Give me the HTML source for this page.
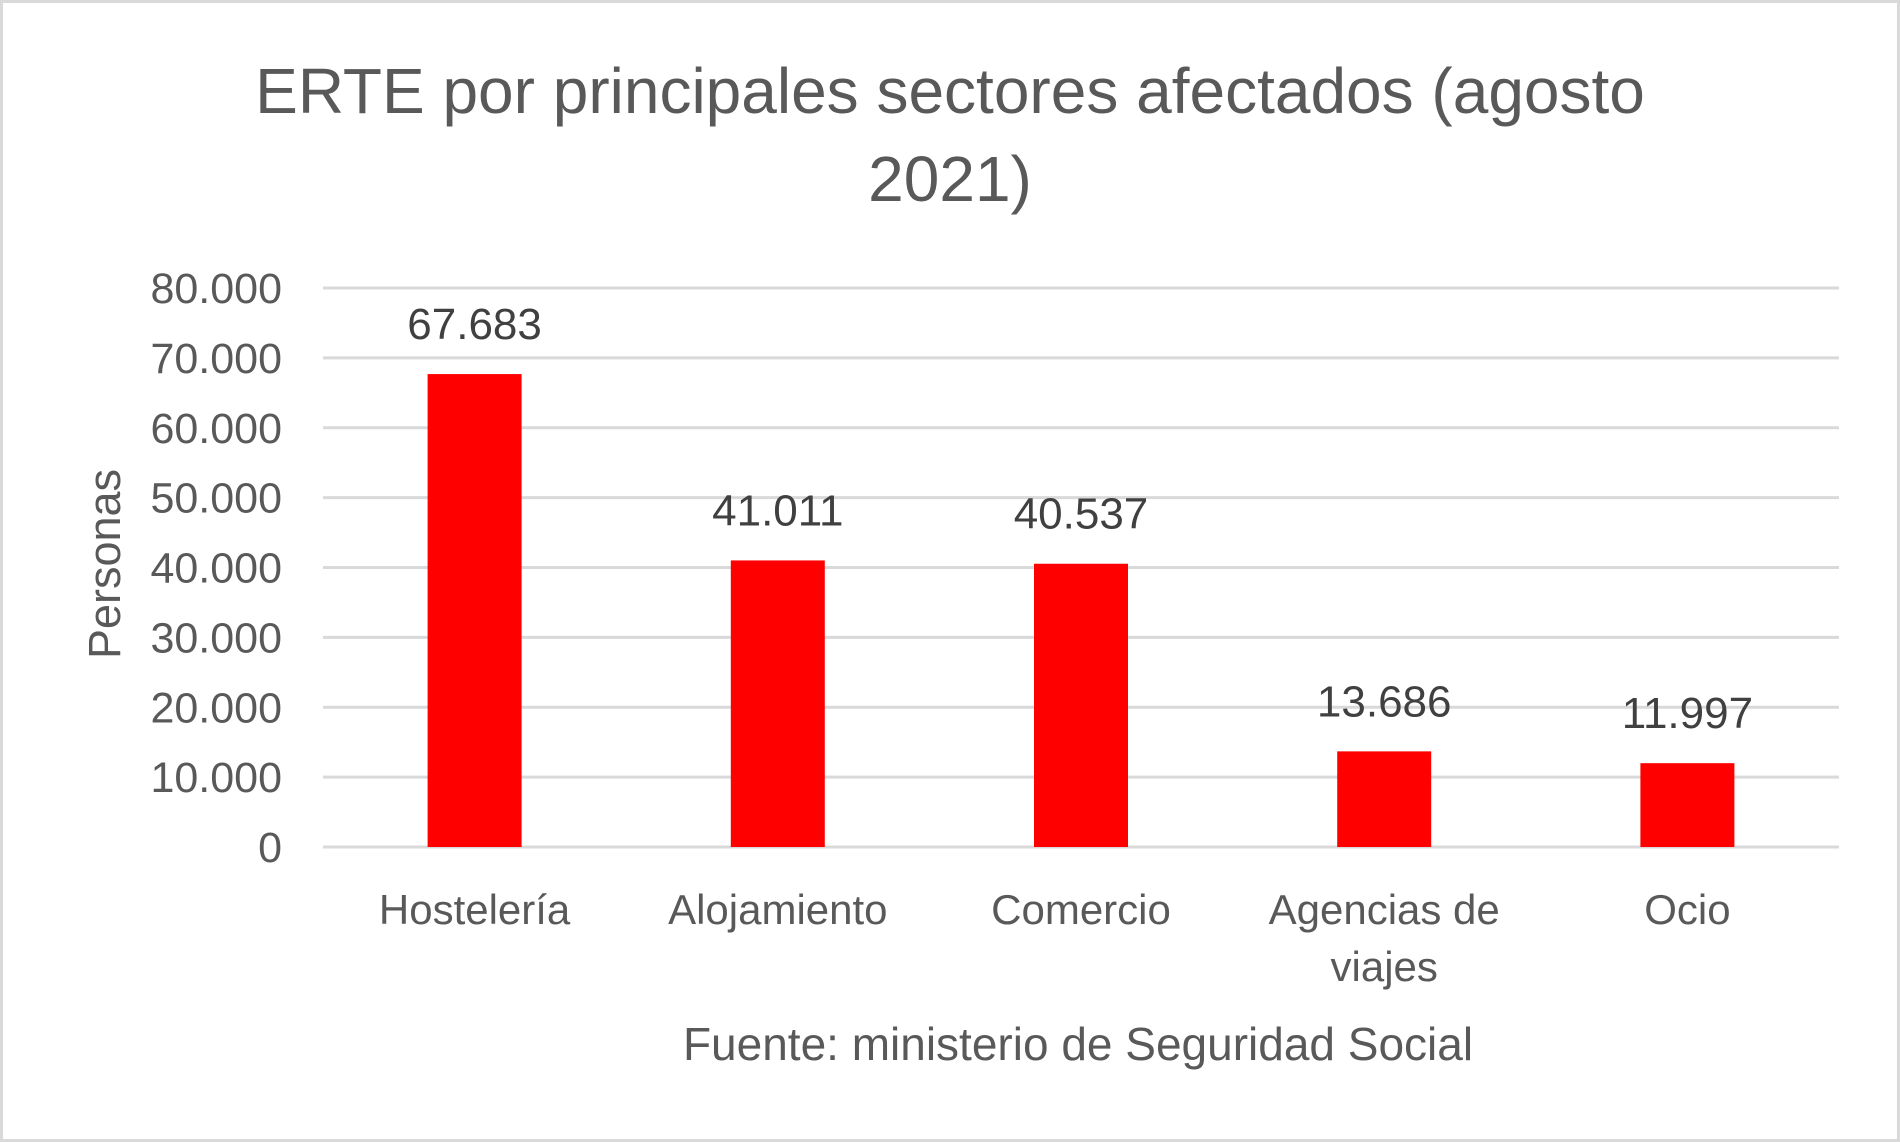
<!DOCTYPE html>
<html><head><meta charset="utf-8"><style>
html,body{margin:0;padding:0;background:#fff;}
svg{display:block;font-family:"Liberation Sans",Arial,sans-serif;}
</style></head><body>
<svg id="chart" width="1900" height="1142" viewBox="0 0 1900 1142" xmlns="http://www.w3.org/2000/svg">
<rect x="1.5" y="1.5" width="1897" height="1139" fill="#fff" stroke="#d9d9d9" stroke-width="3"/>
<text x="950" y="113" text-anchor="middle" font-size="64" fill="#595959">ERTE por principales sectores afectados (agosto</text>
<text x="950" y="201" text-anchor="middle" font-size="64" fill="#595959">2021)</text>
<text transform="translate(120,564) rotate(-90)" text-anchor="middle" font-size="45" fill="#595959">Personas</text>
<text x="1078" y="1060" text-anchor="middle" font-size="46" fill="#595959">Fuente: ministerio de Seguridad Social</text>
<g id="grid"></g><g id="yticks"></g><g id="bars"></g><g id="labels"></g><g id="cats"></g>
</svg>
<script>
const categories=[["Hostelería"],["Alojamiento"],["Comercio"],["Agencias de","viajes"],["Ocio"]];
const values=[67683,41011,40537,13686,11997];
const valueLabels=["67.683","41.011","40.537","13.686","11.997"];
const tickValues=[0,10000,20000,30000,40000,50000,60000,70000,80000];
const tickLabels=["0","10.000","20.000","30.000","40.000","50.000","60.000","70.000","80.000"];
const NS="http://www.w3.org/2000/svg";
const x0=323,x1=1839,yTop=288,yBot=847,yMax=80000;
const y=v=>yBot-(v/yMax)*(yBot-yTop);
const band=(x1-x0)/categories.length;
const xc=i=>x0+band*(i+0.5);
const bw=band*0.31;
function mk(tag,attrs,parent){const e=document.createElementNS(NS,tag);for(const k in attrs)e.setAttribute(k,attrs[k]);document.getElementById(parent).appendChild(e);return e;}
tickValues.forEach((t,i)=>{
 const l=mk("line",{x1:x0,x2:x1,y1:y(t),y2:y(t),stroke:"#d9d9d9","stroke-width":3},"grid");
 
 
 const tx=mk("text",{x:282,y:y(t)+15,"text-anchor":"end","font-size":43,fill:"#595959"},"yticks");
 tx.textContent=tickLabels[i];
 
 
});
values.forEach((v,i)=>{
 const r=mk("rect",{x:xc(i)-bw/2,y:y(v),width:bw,height:yBot-y(v),fill:"#ff0000"},"bars");
 
 
 const t=mk("text",{x:xc(i),y:y(v)-35,"text-anchor":"middle","font-size":44,fill:"#404040"},"labels");
 t.textContent=valueLabels[i];
 
 
 categories[i].forEach((line,j)=>{
  const c=mk("text",{x:xc(i),y:924+j*57,"text-anchor":"middle","font-size":42,fill:"#595959"},"cats");
  c.textContent=line;
  
  
 });
});
</script>
</body></html>
